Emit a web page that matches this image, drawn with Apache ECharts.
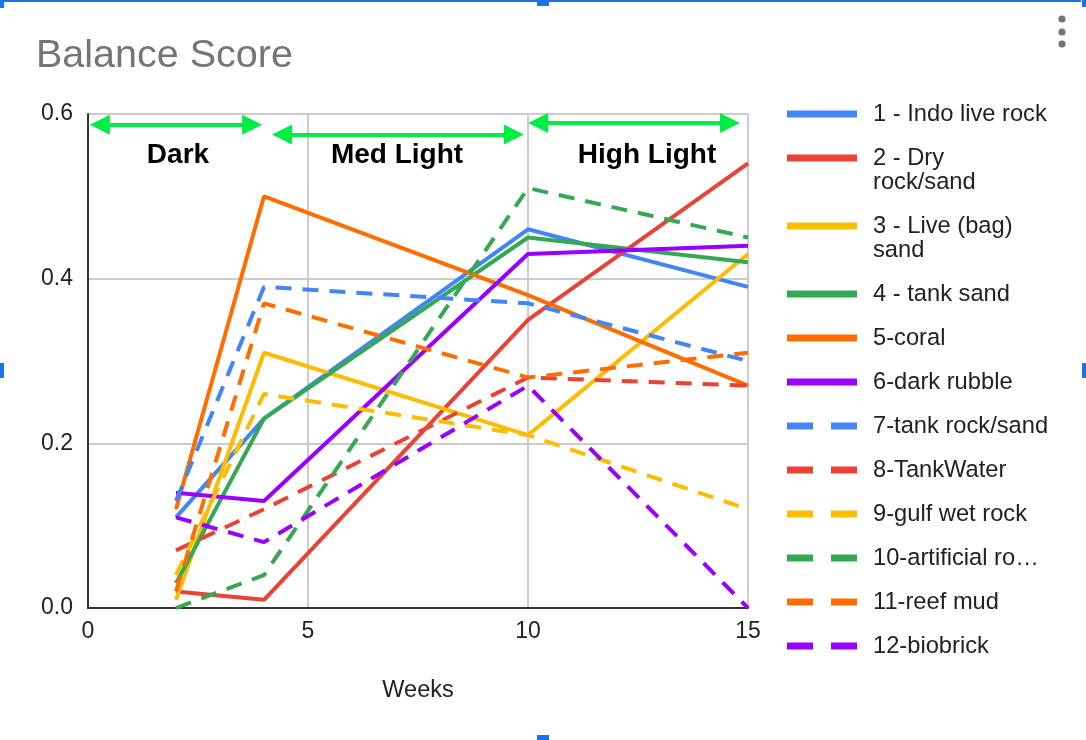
<!DOCTYPE html>
<html>
<head>
<meta charset="utf-8">
<title>Balance Score</title>
<script src="https://cdn.jsdelivr.net/npm/echarts@6/dist/echarts.min.js"></script>
<style>
  html, body { margin: 0; padding: 0; background: #fff; }
  #chart { width: 1086px; height: 740px; }
</style>
</head>
<body>
<div id="chart"></div>
<script>
// weeks of each measurement
var weeks = [2, 4, 10, 15];

// legend names (as shown in the chart)
var seriesNames = [
  "1 - Indo live rock",
  "2 - Dry\nrock/sand",
  "3 - Live (bag)\nsand",
  "4 - tank sand",
  "5-coral",
  "6-dark rubble",
  "7-tank rock/sand",
  "8-TankWater",
  "9-gulf wet rock",
  "10-artificial ro\u2026",
  "11-reef mud",
  "12-biobrick"
];

// balance score per sample, one value per week
var indoLiveRock   = [0.11, 0.23, 0.46, 0.39];
var dryRockSand    = [0.02, 0.01, 0.35, 0.54];
var liveBagSand    = [0.01, 0.31, 0.21, 0.43];
var tankSand       = [0.03, 0.23, 0.45, 0.42];
var coral          = [0.12, 0.50, 0.38, 0.27];
var darkRubble     = [0.14, 0.13, 0.43, 0.44];
var tankRockSand   = [0.13, 0.39, 0.37, 0.30];
var tankWater      = [0.07, 0.12, 0.28, 0.27];
var gulfWetRock    = [0.04, 0.26, 0.21, 0.12];
var artificialRock = [0.00, 0.04, 0.51, 0.45];
var reefMud        = [0.02, 0.37, 0.28, 0.31];
var biobrick       = [0.11, 0.08, 0.27, 0.00];

var allValues = [indoLiveRock, dryRockSand, liveBagSand, tankSand, coral, darkRubble,
  tankRockSand, tankWater, gulfWetRock, artificialRock, reefMud, biobrick];

// light phases (green arrows): start week, end week, height on the score axis
var phaseNames = ["Dark", "Med Light", "High Light"];
var phaseFrom = [0.27, 4.41, 10.23];
var phaseTo = [3.73, 9.68, 14.59];
var phaseY = [0.587, 0.575, 0.589];

var xTicks = [0, 5, 10, 15];
var yTicks = [0, 0.2, 0.4, 0.6];

var colors = ["#4285f4", "#ea4335", "#fbbc04", "#34a853", "#ff6d01", "#9900ff"];
var fontFam = '"Liberation Sans", Arial, sans-serif';

var myChart = echarts.init(document.getElementById("chart"));

var series = [];
for (var i = 0; i < allValues.length; i++) {
  var pts = [];
  for (var k = 0; k < weeks.length; k++) {
    pts.push([weeks[k], allValues[i][k]]);
  }
  series.push({
    name: seriesNames[i],
    type: "line",
    data: pts,
    symbol: "none",
    color: colors[i % 6],
    lineStyle: {
      width: 4,
      color: colors[i % 6],
      type: i >= 6 ? [16, 11] : "solid"
    },
    emphasis: { disabled: true },
    z: 3
  });
}

// green double arrows for the light phases
var arrowData = [];
for (var j = 0; j < phaseNames.length; j++) {
  arrowData.push([
    { coord: [phaseFrom[j], phaseY[j]] },
    { coord: [phaseTo[j], phaseY[j]] }
  ]);
}
series[0].markLine = {
  silent: true,
  symbol: ["triangle", "triangle"],
  symbolSize: [20, 20],
  label: { show: false },
  lineStyle: { color: "#00ee44", width: 4, type: "solid" },
  emphasis: { disabled: true },
  animation: false,
  data: arrowData
};

// legend icons: 70x31 box, the bar sits on the first text line
var iconSolid = "path://M0,0h70v7h-70z";
var iconDashed = "path://M0,0h26v7h-26z M44,0h26v7h-26z";
var iconSolidTop = "path://M0,0h70v7h-70z M0,31h0.01v0.01h-0.01z";

var legendData = [];
for (var m = 0; m < seriesNames.length; m++) {
  var icon = m >= 6 ? iconDashed : iconSolid;
  if (seriesNames[m].indexOf("\n") >= 0) icon = iconSolidTop;
  legendData.push({ name: seriesNames[m], icon: icon });
}

var option = {
  animation: false,
  backgroundColor: "#fff",
  title: {
    text: "Balance Score",
    left: 36,
    top: 36,
    padding: 0,
    textStyle: { fontFamily: fontFam, fontSize: 39.5, fontWeight: "normal", color: "#757575" }
  },
  grid: { left: 88, right: 338, top: 114, bottom: 132 },
  legend: {
    orient: "vertical",
    left: 787,
    top: 102,
    padding: 0,
    itemWidth: 70,
    itemHeight: 31,
    itemGap: 20,
    symbolKeepAspect: true,
    selectedMode: false,
    textStyle: {
      fontFamily: fontFam,
      fontSize: 23.7,
      lineHeight: 24,
      color: "#222",
      padding: [0, 0, 0, 11]
    },
    data: legendData
  },
  xAxis: {
    type: "value",
    min: 0,
    max: 15,
    interval: 5,
    name: "Weeks",
    nameLocation: "middle",
    nameGap: 71,
    nameTextStyle: { fontFamily: fontFam, fontSize: 23.5, color: "#222" },
    axisLine: { show: true, lineStyle: { color: "#333", width: 2 } },
    axisTick: { show: false },
    axisLabel: {
      fontFamily: fontFam, fontSize: 23, color: "#222", margin: 12,
      formatter: function (v) { return xTicks.indexOf(v) >= 0 ? String(v) : ""; }
    },
    splitLine: { show: true, lineStyle: { color: "#cccccc", width: 2 } }
  },
  yAxis: {
    type: "value",
    min: 0,
    max: 0.6,
    interval: 0.2,
    axisLine: { show: true, lineStyle: { color: "#333", width: 2 } },
    axisTick: { show: false },
    axisLabel: {
      fontFamily: fontFam, fontSize: 23, color: "#222", margin: 15,
      formatter: function (v) {
        for (var t = 0; t < yTicks.length; t++) {
          if (Math.abs(yTicks[t] - v) < 1e-9) return yTicks[t].toFixed(1);
        }
        return "";
      }
    },
    splitLine: { show: true, lineStyle: { color: "#cccccc", width: 2 } }
  },
  graphic: [
    // phase labels
    { type: "text", x: 178, y: 155, z: 10, style: { text: phaseNames[0], font: 'bold 28px "Liberation Sans", Arial', fill: "#000", align: "center", verticalAlign: "middle" } },
    { type: "text", x: 397, y: 155, z: 10, style: { text: phaseNames[1], font: 'bold 28px "Liberation Sans", Arial', fill: "#000", align: "center", verticalAlign: "middle" } },
    { type: "text", x: 647, y: 155, z: 10, style: { text: phaseNames[2], font: 'bold 28px "Liberation Sans", Arial', fill: "#000", align: "center", verticalAlign: "middle" } },
    // menu dots
    { type: "circle", shape: { cx: 1062, cy: 19, r: 3.6 }, style: { fill: "#757575" } },
    { type: "circle", shape: { cx: 1062, cy: 32, r: 3.6 }, style: { fill: "#757575" } },
    { type: "circle", shape: { cx: 1062, cy: 44, r: 3.6 }, style: { fill: "#757575" } },
    // selection frame of the embedded chart
    { type: "rect", shape: { x: 0, y: 0, width: 1081, height: 2 }, style: { fill: "#1a73e8" } },
    { type: "rect", shape: { x: 0, y: 0, width: 4, height: 8 }, style: { fill: "#1a73e8" } },
    { type: "rect", shape: { x: 537, y: 0, width: 12, height: 6 }, style: { fill: "#1a73e8" } },
    { type: "rect", shape: { x: 1082, y: 0, width: 4, height: 7 }, style: { fill: "#1a73e8" } },
    { type: "rect", shape: { x: 0, y: 363, width: 4, height: 15 }, style: { fill: "#1a73e8" } },
    { type: "rect", shape: { x: 1082, y: 363, width: 4, height: 15 }, style: { fill: "#1a73e8" } },
    { type: "rect", shape: { x: 537, y: 735, width: 12, height: 5 }, style: { fill: "#1a73e8" } }
  ],
  series: series
};

myChart.setOption(option);
</script>
</body>
</html>
